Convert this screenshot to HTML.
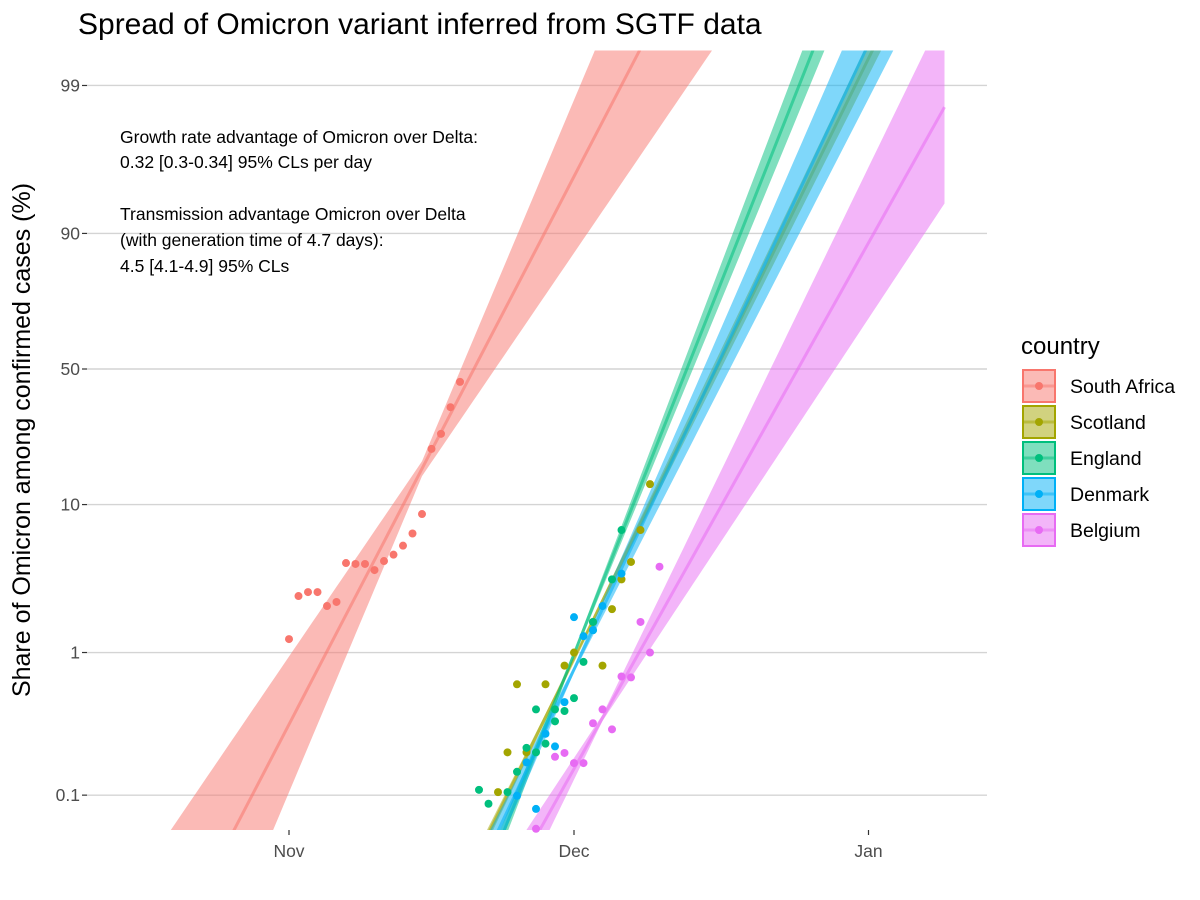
<!DOCTYPE html>
<html><head><meta charset="utf-8">
<style>
html,body{margin:0;background:#fff;overflow:hidden;width:1200px;height:900px;}
svg{display:block;font-family:"Liberation Sans",Arial,sans-serif;overflow:hidden;}
</style></head>
<body>
<svg id="chart" width="1200" height="900" viewBox="0 0 1200 900">
<defs><clipPath id="pclip"><rect x="87" y="50.5" width="900" height="779.5"/></clipPath></defs>
<text x="78" y="34" font-size="30" fill="#000">Spread of Omicron variant inferred from SGTF data</text>
<g id="grid"></g>
<g id="yticks"></g>
<g id="xticks"></g>
<g id="ribbons" clip-path="url(#pclip)"></g>
<g id="points"></g>
<text transform="translate(30,440) rotate(-90)" text-anchor="middle" font-size="25" fill="#000">Share of Omicron among confirmed cases (%)</text>
<g font-size="17.5" fill="#000">
<text x="120" y="143">Growth rate advantage of Omicron over Delta:</text>
<text x="120" y="168">0.32 [0.3-0.34] 95% CLs per day</text>
<text x="120" y="220">Transmission advantage Omicron over Delta</text>
<text x="120" y="246">(with generation time of 4.7 days):</text>
<text x="120" y="272">4.5 [4.1-4.9] 95% CLs</text>
</g>
<text x="1021" y="354" font-size="24" fill="#000">country</text>
<g id="legend"></g>
</svg>
<script>
const countries=["South Africa","Scotland","England","Denmark","Belgium"];
const colors=["#F8766D","#A3A500","#00BF7D","#00B0F6","#E76BF3"];
// days since Nov 1
const saDays=[0,1,2,3,4,5,6,7,8,9,10,11,12,13,14,15,16,17,18];
const saPct=[1.24,2.46,2.62,2.62,2.1,2.24,4.13,4.07,4.07,3.7,4.26,4.7,5.4,6.5,8.7,21.5,25.9,35,44.8];
const scDays=[38,37,36,35,34,30,29,33,24,27,23,25,22,32];
const scPct=[13.4,6.85,4.2,3.2,2.0,1.0,0.81,0.81,0.60,0.60,0.20,0.20,0.105,1.63];
const enDays=[35,32,31,26,30,29,28,27,25,26,24,23,20,21,34,32,28];
const enPct=[6.85,1.43,0.86,0.40,0.48,0.39,0.33,0.23,0.215,0.20,0.146,0.105,0.109,0.087,3.2,1.63,0.40];
const dkDays=[30,31,32,33,35,29,27,28,24,25,26];
const dkPct=[1.76,1.30,1.43,2.1,3.5,0.45,0.27,0.22,0.099,0.17,0.080];
const beDays=[39,37,38,35,36,33,32,34,28,29,30,31,26];
const bePct=[3.9,1.63,1.0,0.68,0.67,0.40,0.32,0.29,0.186,0.198,0.168,0.168,0.058];
// logistic fit: logit at day 30, slope per day, CI half-width = ciA + ciB*|d-ciC|
const fitL30=[3.12,-4.70,-4.62,-4.87,-6.48];
const fitSlope=[0.296,0.314,0.389,0.327,0.275];
const ciA=[0.12,0.03,0.05,0.05,0.05];
const ciB=[0.07,0.008,0.016,0.027,0.042];
const ciC=[14,30,30,30,33];
const fitEnd=[70,70,70,70,69];
const yTicks=[0.1,1,10,50,90,99];
const yTickLabels=["0.1","1","10","50","90","99"];
const xTickDays=[0,30,61];
const xTickLabels=["Nov","Dec","Jan"];

const NS="http://www.w3.org/2000/svg";
function X(d){return 289+9.5*d;}
function YL(L){return 369-61.7*L;}
function Y(p){const q=p/100;return YL(Math.log(q/(1-q)));}
function mk(tag,attrs,parent){const e=document.createElementNS(NS,tag);for(const k in attrs)e.setAttribute(k,attrs[k]);parent.appendChild(e);return e;}
const grid=document.getElementById('grid'),yt=document.getElementById('yticks'),xt=document.getElementById('xticks');
yTicks.forEach((v,i)=>{
  const l=mk('line',{x1:87,x2:987,y1:Y(v),y2:Y(v),stroke:'#d4d4d4','stroke-width':1.4},grid);
  
  
  const tk=mk('line',{x1:82,x2:87,y1:Y(v),y2:Y(v),stroke:'#333','stroke-width':1.2},yt);
  
  
  const t=mk('text',{x:80,y:Y(v)+6,'text-anchor':'end','font-size':17.5,fill:'#4d4d4d'},yt);
  t.textContent=yTickLabels[i];
  
  
});
xTickDays.forEach((d,i)=>{
  const tk=mk('line',{x1:X(d),x2:X(d),y1:830,y2:835,stroke:'#333','stroke-width':1.2},xt);
  
  
  const t=mk('text',{x:X(d),y:857,'text-anchor':'middle','font-size':17.5,fill:'#4d4d4d'},xt);
  t.textContent=xTickLabels[i];
  
  
});
const rib=document.getElementById('ribbons');
for(let c=0;c<countries.length;c++){
  const up=[],lo=[],mid=[];
  for(let d=-25;d<=fitEnd[c];d+=0.5){
    const L=fitL30[c]+fitSlope[c]*(d-30);
    const hw=ciA[c]+ciB[c]*Math.abs(d-ciC[c]);
    mid.push(X(d)+','+YL(L));up.push(X(d)+','+YL(L+hw));lo.unshift(X(d)+','+YL(L-hw));
  }
  const poly=mk('polygon',{points:up.concat(lo).join(' '),fill:colors[c],'fill-opacity':0.5},rib);
  
  
  const pl=mk('polyline',{points:mid.join(' '),fill:'none',stroke:colors[c],'stroke-opacity':0.55,'stroke-width':3},rib);
  
  
}
const pts=document.getElementById('points');
const sets=[[saDays,saPct],[scDays,scPct],[enDays,enPct],[dkDays,dkPct],[beDays,bePct]];
sets.forEach((s,c)=>{
  s[0].forEach((d,i)=>{
    const p=mk('circle',{cx:X(d),cy:Y(s[1][i]),r:4,fill:colors[c]},pts);
    
    
  });
});
const lg=document.getElementById('legend');
countries.forEach((n,i)=>{
  const y0=369+36*i;
  const g=mk('g',{},lg);
  
  
  mk('rect',{x:1023,y:y0+1,width:32,height:32,fill:colors[i],'fill-opacity':0.5,stroke:colors[i],'stroke-width':2},g);
  mk('line',{x1:1023,x2:1055,y1:y0+17,y2:y0+17,stroke:colors[i],'stroke-opacity':0.5,'stroke-width':3},g);
  mk('circle',{cx:1039,cy:y0+17,r:4,fill:colors[i]},g);
  const t=mk('text',{x:1070,y:y0+24,'font-size':19.5,fill:'#000'},g);
  t.textContent=n;
});
</script>
</body></html>
